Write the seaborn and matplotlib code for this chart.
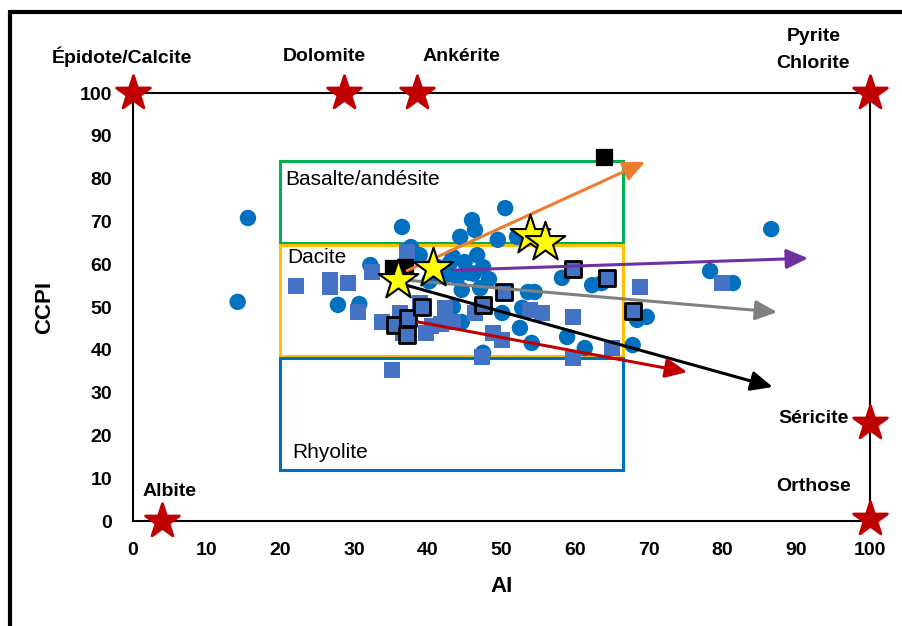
import matplotlib
matplotlib.use("Agg")
import matplotlib.pyplot as plt
import seaborn as sns
from matplotlib.patches import Rectangle

sns.set_theme(style="white")
plt.rcParams['font.family'] = ['Liberation Sans', 'DejaVu Sans']
plt.rcParams['text.color'] = 'black'
plt.rcParams['axes.labelcolor'] = 'black'
plt.rcParams['xtick.color'] = 'black'
plt.rcParams['ytick.color'] = 'black'

# ---- data ----
circle_ai = [15.6, 14.2, 27.8, 30.7, 32.2, 36.5, 37.7, 38.9, 44.4, 46.0, 46.4, 50.5, 49.5, 52.1,
             46.7, 45.0, 47.5, 41.4, 43.4, 44.0, 44.6, 47.1, 53.6, 54.5, 52.8, 50.1, 43.4, 44.6,
             52.5, 54.1, 58.9, 61.3, 67.8, 69.7, 68.4, 47.5, 58.2, 62.3, 63.6, 86.6, 78.3, 81.4,
             42.5, 40.2, 45.6, 43.0, 46.2, 48.3]
circle_ccpi = [70.8, 51.2, 50.5, 50.7, 59.8, 68.7, 64.0, 62.1, 66.4, 70.3, 68.0, 73.1, 65.7, 66.4,
               62.1, 60.5, 59.3, 59.3, 61.7, 57.0, 54.0, 54.4, 53.5, 53.5, 49.8, 48.6, 50.0, 46.5,
               45.1, 41.6, 43.0, 40.4, 41.1, 47.7, 47.0, 39.3, 56.8, 55.1, 55.6, 68.2, 58.4, 55.6,
               57.5, 56.0, 58.0, 60.3, 57.8, 56.5]

square_ai = [22.1, 26.7, 26.7, 29.2, 32.4, 30.5, 37.2, 33.8, 36.2, 36.6, 38.9, 39.8, 35.1, 42.3,
             43.4, 46.4, 48.8, 50.1, 47.4, 53.9, 55.5, 59.7, 65.0, 59.7, 68.8, 79.9, 40.5, 41.8]
square_ccpi = [54.9, 56.3, 54.7, 55.6, 58.2, 48.8, 62.9, 46.5, 48.6, 43.9, 50.9, 43.9, 35.3, 49.8,
               46.5, 48.6, 43.9, 42.3, 38.3, 49.3, 48.6, 47.7, 40.4, 38.1, 54.7, 55.6, 45.5, 46.0]

outlined_ai = [35.5, 37.3, 39.2, 37.2, 47.5, 50.3, 59.7, 64.3, 67.8]
outlined_ccpi = [45.8, 47.4, 50.0, 43.5, 50.5, 53.5, 58.9, 56.8, 49.1]

black_ai = [63.9, 35.3, 36.9]
black_ccpi = [85.0, 59.1, 59.3]

yellow_ai = [36.0, 40.7, 53.9, 55.9]
yellow_ccpi = [56.3, 59.1, 66.8, 65.2]

mineral_names = ["Épidote/Calcite", "Dolomite", "Ankérite", "Pyrite\nChlorite",
                 "Séricite", "Orthose", "Albite"]
mineral_ai = [0, 28.6, 38.5, 100, 100, 100, 4]
mineral_ccpi = [100, 100, 100, 100, 23, 0.5, 0]

arrow_colors = ["#ED7D31", "#7030A0", "#808080", "#000000", "#C00000"]
arrow_x0 = [37.2, 43.4, 36.9, 36.0, 38.7]
arrow_y0 = [58.5, 58.6, 56.3, 55.6, 46.5]
arrow_x1 = [69.5, 91.6, 87.4, 86.8, 75.2]
arrow_y1 = [83.9, 61.4, 48.8, 31.3, 34.8]

field_names = ["Basalte/andésite", "Dacite", "Rhyolite"]
field_colors = ["#00B050", "#FFC000", "#0070C0"]
field_x0 = [20, 20, 20]
field_x1 = [66.5, 66.5, 66.5]
field_y0 = [65, 38.6, 12]
field_y1 = [84, 64.6, 38]

# ---- figure ----
fig = plt.figure(figsize=(9.02, 6.26), dpi=100)
ax = fig.add_axes([133/902, 1-521/626, (870-133)/902, (521-93)/626])
ax.set_xlim(0, 100)
ax.set_ylim(0, 100)

# figure frame (partially cropped)
fig.patches.append(Rectangle((10/902, -0.1), 1.5, (626-12)/626 + 0.1, transform=fig.transFigure,
                             fill=False, edgecolor="black", linewidth=3, zorder=0))

# fields
for name, c, x0, x1, y0, y1 in zip(field_names, field_colors, field_x0, field_x1, field_y0, field_y1):
    ax.add_patch(Rectangle((x0, y0), x1 - x0, y1 - y0, fill=False, edgecolor=c, linewidth=2.2, zorder=1))
ax.text(field_x0[0] + 0.6, field_y1[0] - 2.0, field_names[0], fontsize=15, va="top", ha="left", zorder=2)
ax.text(field_x0[1] + 0.9, field_y1[1] - 0.7, field_names[1], fontsize=15, va="top", ha="left", zorder=2)
ax.text(field_x0[2] + 1.6, field_y0[2] + 1.8, field_names[2], fontsize=15, va="bottom", ha="left", zorder=2)

sns.scatterplot(x=circle_ai, y=circle_ccpi, ax=ax, marker="o", s=140, color="#0070C0",
                edgecolor="none", zorder=3, legend=False)
sns.scatterplot(x=square_ai, y=square_ccpi, ax=ax, marker="s", s=130, color="#4472C4",
                edgecolor="none", zorder=3, legend=False)
sns.scatterplot(x=outlined_ai, y=outlined_ccpi, ax=ax, marker="s", s=130, color="#4472C4",
                edgecolor="black", linewidth=2, zorder=4, legend=False)
sns.scatterplot(x=black_ai, y=black_ccpi, ax=ax, marker="s", s=130, color="black",
                edgecolor="black", zorder=4, legend=False)

for c, x0, y0, x1, y1 in zip(arrow_colors, arrow_x0, arrow_y0, arrow_x1, arrow_y1):
    ax.annotate("", xy=(x1, y1), xytext=(x0, y0),
                arrowprops=dict(arrowstyle="-|>,head_length=1.1,head_width=0.5", color=c, lw=2.2,
                                shrinkA=0, shrinkB=0), zorder=5)

sns.scatterplot(x=yellow_ai, y=yellow_ccpi, ax=ax, marker="*", s=900, color="#FFFF00",
                edgecolor="black", linewidth=1.5, zorder=6, legend=False)
sns.scatterplot(x=mineral_ai, y=mineral_ccpi, ax=ax, marker="*", s=650, color="#C00000",
                edgecolor="#C00000", zorder=7, legend=False)
ax.collections[-1].set_clip_on(False)

# mineral labels
label_pos = [(-1.5, 108.5), (26, 108.5), (44.5, 108.5), (92.3, 110), (92.3, 24), (92.3, 8), (5, 7)]
for name, (lx, ly) in zip(mineral_names, label_pos):
    ax.text(lx, ly, name, fontsize=14, fontweight="bold", ha="center", va="center",
            linespacing=1.75, clip_on=False)

for s in ax.spines.values():
    s.set_color("black")
    s.set_linewidth(1.5)
    s.set_visible(True)
ax.set_xticks(range(0, 101, 10))
ax.set_yticks(range(0, 101, 10))
ax.tick_params(axis="x", length=0, labelsize=14, pad=15)
ax.tick_params(axis="y", length=0, labelsize=14, pad=15)
for lab in ax.get_xticklabels() + ax.get_yticklabels():
    lab.set_fontweight("bold")
ax.set_xlabel("AI", fontsize=16, fontweight="bold", labelpad=12)
ax.set_ylabel("CCPI", fontsize=16, fontweight="bold", labelpad=18)
ax.grid(False)
ax.set_facecolor("white")

fig.savefig("out.png", dpi=100, facecolor="white")
